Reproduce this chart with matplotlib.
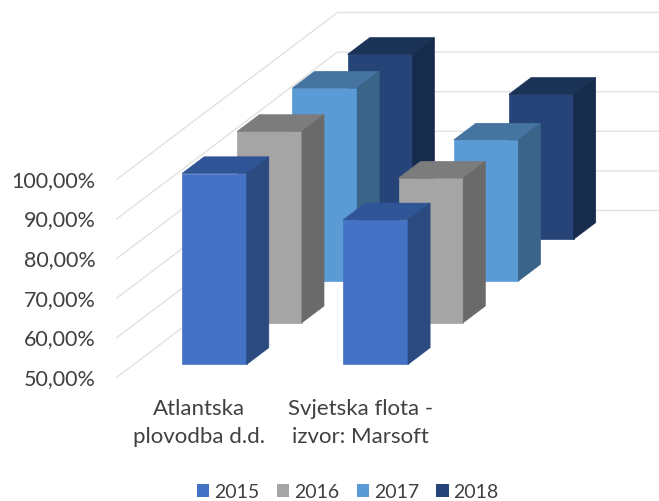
import matplotlib
matplotlib.use("Agg")
import matplotlib.pyplot as plt
from matplotlib.patches import Polygon, Patch

plt.rcParams['font.family'] = ['Lato', 'DejaVu Sans']

categories = ["Atlantska\nplovodba d.d.", "Svjetska flota -\nizvor: Marsoft"]
years = ["2015", "2016", "2017", "2018"]
val_2015 = [98.2, 86.5]
val_2016 = [98.3, 86.5]
val_2017 = [98.7, 85.6]
val_2018 = [96.7, 86.6]
ticks = [50, 60, 70, 80, 90, 100]
tick_labels = ["50,00%", "60,00%", "70,00%", "80,00%", "90,00%", "100,00%"]

series = [val_2015, val_2016, val_2017, val_2018]
# front, top, side shade of each year
colors = [("#4472C4", "#2F5597", "#2A4A80"),
          ("#A5A5A5", "#7C7C7C", "#6A6A6A"),
          ("#5B9BD5", "#44749F", "#3A6488"),
          ("#264478", "#1C3358", "#172B4D")]

# oblique projection of the excel 3d column chart, in pixels
X0, Y0 = 116.7, 377.3
CAT_W = 161.3
SLOT_DX, SLOT_DY = 55.2, 41.7
PX_PER_UNIT = 3.96
GAP = 48.2
BAR_W = 64.7
DEPTH_START, DEPTH_END = 0.31, 0.71
TEXT = "#404040"


def project(x, depth, val):
    return (X0 + x + depth * SLOT_DX,
            Y0 - depth * SLOT_DY - (val - ticks[0]) * PX_PER_UNIT)


fig = plt.figure(figsize=(6.59, 5.01), dpi=100)
ax = fig.add_axes([0, 0, 1, 1])
ax.set_xlim(0, 659)
ax.set_ylim(501, 0)
ax.axis("off")

# gridlines on floor side and back wall
n_slots = len(series)
for t in ticks:
    p0 = project(0, 0, t)
    p1 = project(0, n_slots, t)
    p2 = project(CAT_W * len(categories), n_slots, t)
    ax.plot([p0[0], p1[0], p2[0]], [p0[1], p1[1], p2[1]], color="#E2E2E2", lw=1.0, zorder=1)

for t, lab in zip(ticks, tick_labels):
    ax.text(95.5, project(0, 0, t)[1] + 1.5, lab, ha="right", va="center", fontsize=15.5, color=TEXT)

# back series first so the front ones cover them
z = 2
for s in range(n_slots - 1, -1, -1):
    front, top, side = colors[s]
    for c in range(len(categories)):
        val = series[s][c]
        xl = c * CAT_W + GAP
        xr = xl + BAR_W
        d0 = s + DEPTH_START
        d1 = s + DEPTH_END
        faces = [
            ([project(xl, d0, ticks[0]), project(xr, d0, ticks[0]), project(xr, d0, val), project(xl, d0, val)], front),
            ([project(xl, d0, val), project(xr, d0, val), project(xr, d1, val), project(xl, d1, val)], top),
            ([project(xr, d0, ticks[0]), project(xr, d1, ticks[0]), project(xr, d1, val), project(xr, d0, val)], side),
        ]
        for pts, col in faces:
            ax.add_patch(Polygon(pts, closed=True, facecolor=col, edgecolor=col, lw=0.5, zorder=z))
        z += 1

for c, lab in enumerate(categories):
    ax.text(199 + c * CAT_W, 423, lab, ha="center", va="center", fontsize=16,
            color=TEXT, linespacing=1.5)

handles = [Patch(facecolor=colors[i][0], edgecolor="none", label=years[i]) for i in range(len(years))]
ax.legend(handles=handles, ncol=4, loc="center", bbox_to_anchor=(348, 492), bbox_transform=ax.transData,
          frameon=False, fontsize=14, labelcolor=TEXT, handlelength=0.62, handleheight=0.62,
          handletextpad=0.26, columnspacing=0.9, borderpad=0)

fig.savefig("out.png", dpi=100)
